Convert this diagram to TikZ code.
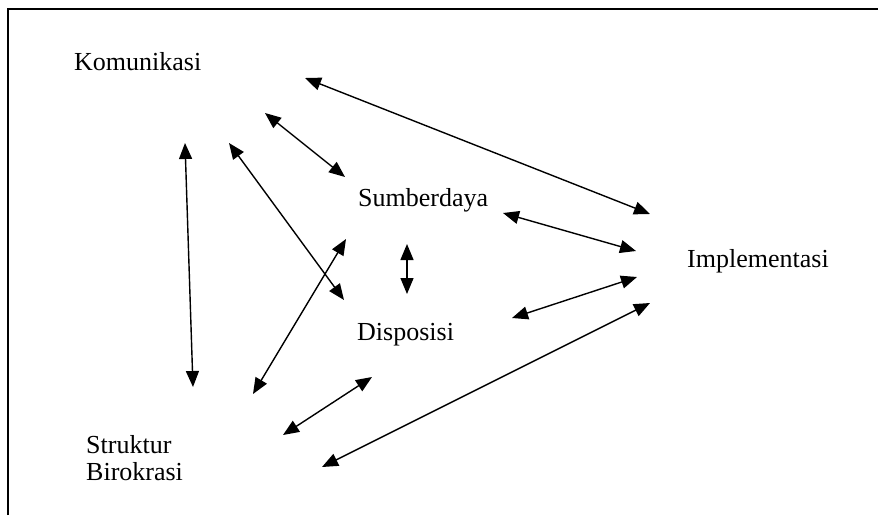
\documentclass[tikz,border=0pt]{standalone}
\usepackage{fontspec}
\setmainfont{Liberation Serif}
\usetikzlibrary{arrows.meta}
\begin{document}
\begin{tikzpicture}[x=1pt,y=-1pt,
  lbl/.style={anchor=base west,inner sep=0pt,font=\fontsize{26}{27}\selectfont},
  link/.style={line width=1.4pt,{Triangle[length=16pt,width=13pt]}-{Triangle[length=16pt,width=13pt]}},
  frameline/.style={line width=1.8pt}]
\useasboundingbox (0,0) rectangle (878,515);
% frame
\coordinate (fbl) at (8,515);
\coordinate (ftl) at (8,9);
\coordinate (ftr) at (878,9);
\draw[frameline] (fbl) -- (ftl) -- (ftr);
% labels
\node[lbl] (kom) at (74,70) {Komunikasi};
\node[lbl] (sum) at (358,206) {Sumberdaya};
\node[lbl] (dis) at (357,340) {Disposisi};
\node[lbl] (imp) at (687,267) {Implementasi};
\node[lbl] (str) at (86,453) {Struktur};
\node[lbl] (bir) at (86,480) {Birokrasi};
% connector ends
\coordinate (a1) at (305,78);  \coordinate (b1) at (650,214);
\coordinate (a2) at (265,113); \coordinate (b2) at (345,177);
\coordinate (a3) at (185,143); \coordinate (b3) at (193,387);
\coordinate (a4) at (229,143); \coordinate (b4) at (344,300);
\coordinate (a5) at (346,239); \coordinate (b5) at (253,394);
\coordinate (a6) at (407,244); \coordinate (b6) at (407,294);
\coordinate (a7) at (503,213); \coordinate (b7) at (636,251);
\coordinate (a8) at (512,318); \coordinate (b8) at (637,277);
\coordinate (a9) at (372,377); \coordinate (b9) at (283,435);
\coordinate (a10) at (650,303); \coordinate (b10) at (322,467);
\draw[link] (a1) -- (b1);
\draw[link] (a2) -- (b2);
\draw[link] (a3) -- (b3);
\draw[link] (a4) -- (b4);
\draw[link] (a5) -- (b5);
\draw[link] (a6) -- (b6);
\draw[link] (a7) -- (b7);
\draw[link] (a8) -- (b8);
\draw[link] (a9) -- (b9);
\draw[link] (a10) -- (b10);
\end{tikzpicture}
\end{document}
